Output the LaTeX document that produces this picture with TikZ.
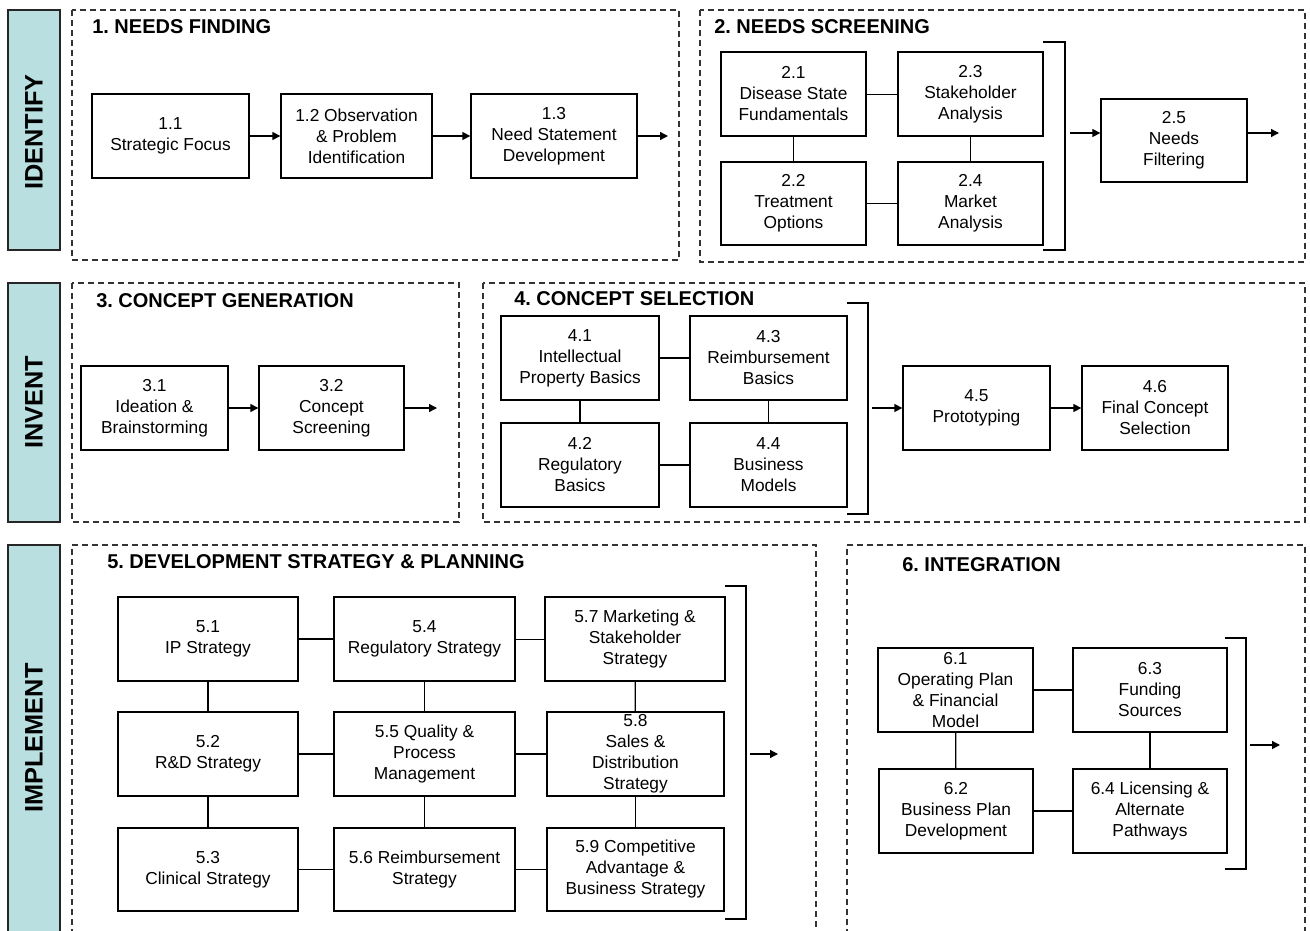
\documentclass[tikz,border=0pt]{standalone}
\usepackage{fontspec}
\setmainfont{Liberation Sans}
\usetikzlibrary{arrows.meta}
\frenchspacing
\begin{document}
\begin{tikzpicture}[x=0.75pt,y=-0.75pt,
  box/.style={draw=black,line width=1pt,fill=white,inner sep=0pt,align=center,
    font=\fontsize{13}{15.75}\selectfont},
  phase/.style={draw=black!85,line width=1.1pt,fill=barcol},
  phasetext/.style={rotate=90,font=\fontsize{19}{22}\selectfont\bfseries},
  group/.style={draw=black!80,line width=0.9pt,dash pattern=on 4.5pt off 3pt},
  title/.style={anchor=west,inner sep=0pt,font=\fontsize{15}{18}\selectfont\bfseries},
  conn/.style={line width=1pt},
  thin/.style={line width=0.5pt},
  flow/.style={line width=1pt,-{Triangle[length=6pt,width=6pt]}},
  brk/.style={line width=1pt}]
\definecolor{barcol}{HTML}{BADFE1}
\newcommand\bx[6]{\node[box,minimum width={(#4-#2)*0.75pt},minimum height={(#5-#3)*0.75pt}] (#1) at ({(#2+#4)/2},{(#3+#5)/2}) {#6};}
\useasboundingbox (0,0) rectangle (1310,931);

% phase bars
\draw[phase] (8,10) rectangle (60,250);
\node[phasetext] (pid) at (34,132) {IDENTIFY};
\draw[phase] (8,283) rectangle (60,522);
\node[phasetext] (pin) at (34,402) {INVENT};
\draw[phase] (8,945) -- (8,545) -- (60,545) -- (60,945);
\node[phasetext] (pim) at (34,738) {IMPLEMENT};

% group boxes
\draw[group] (72,10) rectangle (679,260);
\node[title] (t1) at (92,27) {1. NEEDS FINDING};
\draw[group] (700,10) rectangle (1305,262);
\node[title] (t2) at (714,27) {2. NEEDS SCREENING};
\draw[group] (72,283) rectangle (459,522);
\node[title] (t3) at (96,301) {3. CONCEPT GENERATION};
\draw[group] (483,283) rectangle (1305,522);
\node[title] (t4) at (514,299) {4. CONCEPT SELECTION};
\draw[group] (72,945) -- (72,545) -- (816,545) -- (816,945);
\node[title] (t5) at (107,562) {5. DEVELOPMENT STRATEGY \& PLANNING};
\draw[group] (847,945) -- (847,545) -- (1305,545) -- (1305,945);
\node[title] (t6) at (902,565) {6. INTEGRATION};

% 1
\bx{n11}{92}{94}{249}{178}{1.1\\Strategic Focus}
\bx{n12}{281}{94}{432}{178}{1.2 Observation\\\& Problem\\Identification}
\bx{n13}{471}{94}{637}{178}{1.3\\Need Statement\\Development}
\coordinate (e13) at (668,136);
\draw[flow] (n11.east) -- (n12.west);
\draw[flow] (n12.east) -- (n13.west);
\draw[flow] (n13.east) -- (e13);

% 2
\bx{n21}{721}{52}{866}{136}{2.1\\Disease State\\Fundamentals}
\bx{n23}{898}{52}{1043}{136}{2.3\\Stakeholder\\Analysis}
\bx{n22}{721}{162}{866}{245}{2.2\\Treatment\\Options}
\bx{n24}{898}{162}{1043}{245}{2.4\\Market\\Analysis}
\bx{n25}{1101}{99}{1247}{182}{2.5\\Needs\\Filtering}
\draw[thin] (n21) -- (n23);
\draw[conn] (n21) -- (n22);
\draw[conn] (n23) -- (n24);
\draw[conn] (n22) -- (n24);
\draw[brk] (1043,42) -- (1065,42) -- (1065,250) -- (1043,250);
\coordinate (b2) at (1070,133);
\coordinate (e25) at (1279,133);
\draw[flow] (b2) -- (n25.west |- b2);
\draw[flow] (n25.east |- e25) -- (e25);

% 3
\bx{n31}{81}{366}{228}{450}{3.1\\Ideation \&\\Brainstorming}
\bx{n32}{259}{366}{404}{450}{3.2\\Concept\\Screening}
\coordinate (e32) at (437,408);
\draw[flow] (n31.east) -- (n32.west);
\draw[flow] (n32.east) -- (e32);

% 4
\bx{n41}{501}{316}{659}{400}{4.1\\Intellectual\\Property Basics}
\bx{n43}{690}{316}{847}{400}{4.3\\Reimbursement\\Basics}
\bx{n42}{501}{423}{659}{507}{4.2\\Regulatory\\Basics}
\bx{n44}{690}{423}{847}{507}{4.4\\Business\\Models}
\bx{n45}{903}{366}{1050}{450}{4.5\\Prototyping}
\bx{n46}{1082}{366}{1228}{450}{4.6\\Final Concept\\Selection}
\draw[conn] (n41) -- (n43);
\draw[conn] (n41) -- (n42);
\draw[conn] (n43) -- (n44);
\draw[conn] (n42) -- (n44);
\draw[brk] (847,303) -- (868,303) -- (868,514) -- (847,514);
\coordinate (b4) at (872,408);
\draw[flow] (b4) -- (n45.west);
\draw[flow] (n45.east) -- (n46.west);

% 5
\bx{n51}{118}{597}{298}{681}{5.1\\IP Strategy}
\bx{n54}{334}{597}{515}{681}{5.4\\Regulatory Strategy}
\bx{n57}{545}{597}{725}{681}{5.7 Marketing \&\\Stakeholder\\Strategy}
\bx{n52}{118}{712}{298}{796}{5.2\\R\&D Strategy}
\bx{n55}{334}{712}{515}{796}{5.5 Quality \&\\Process\\Management}
\bx{n58}{547}{712}{724}{796}{5.8\\Sales \&\\Distribution\\Strategy}
\bx{n53}{118}{828}{298}{911}{5.3\\Clinical Strategy}
\bx{n56}{334}{828}{515}{911}{5.6 Reimbursement\\Strategy}
\bx{n59}{547}{828}{724}{911}{5.9 Competitive\\Advantage \&\\Business Strategy}
\draw[conn] (n51) -- (n54);
\draw[thin] (n54) -- (n57);
\draw[conn] (n52) -- (n55);
\draw[conn] (n55) -- (n58);
\draw[conn] (n53) -- (n56);
\draw[conn] (n56) -- (n59);
\draw[conn] (n51) -- (n52);
\draw[conn] (n52) -- (n53);
\draw[thin] (n54) -- (n55);
\draw[thin] (n55) -- (n56);
\draw[conn] (n57) -- (n58);
\draw[conn] (n58) -- (n59);
\draw[brk] (725,586) -- (746,586) -- (746,919) -- (725,919);
\coordinate (b5) at (750,754);
\coordinate (e5) at (778,754);
\draw[flow] (b5) -- (e5);

% 6
\bx{n61}{878}{648}{1033}{732}{6.1\\Operating Plan\\\& Financial\\Model}
\bx{n63}{1073}{648}{1227}{732}{6.3\\Funding\\Sources}
\bx{n62}{879}{769}{1033}{853}{6.2\\Business Plan\\Development}
\bx{n64}{1073}{769}{1227}{853}{6.4 Licensing \&\\Alternate\\Pathways}
\draw[conn] (n61) -- (n63);
\draw[conn] (n61) -- (n62);
\draw[conn] (n63) -- (n64);
\draw[conn] (n62) -- (n64);
\draw[brk] (1225,638) -- (1246,638) -- (1246,869) -- (1225,869);
\coordinate (b6) at (1250,745);
\coordinate (e6) at (1280,745);
\draw[flow] (b6) -- (e6);
\end{tikzpicture}
\end{document}
